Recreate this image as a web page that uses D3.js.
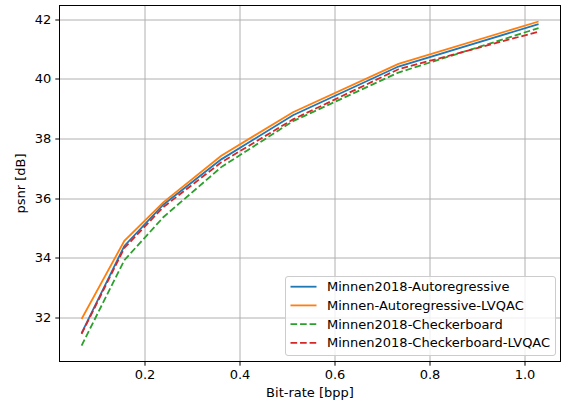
<!DOCTYPE html>
<html>
<head>
<meta charset="utf-8">
<script src="https://cdn.jsdelivr.net/npm/d3@7"></script>
<style>
  body { margin: 0; background: #fff; }
  #box { width: 562px; height: 404px; }
  text { font-family: "DejaVu Sans", sans-serif; fill: #000; }
</style>
</head>
<body>
<div id="box"></div>
<script>
// data
const bitrate = [0.068, 0.158, 0.240, 0.362, 0.513, 0.735, 1.030];
const autoregressive = [31.48, 34.40, 35.78, 37.30, 38.78, 40.41, 41.83];
const autoregressiveLvqac = [31.95, 34.57, 35.86, 37.42, 38.88, 40.50, 41.92];
const checkerboard = [31.06, 33.92, 35.36, 37.04, 38.58, 40.21, 41.70];
const checkerboardLvqac = [31.45, 34.33, 35.70, 37.20, 38.64, 40.32, 41.58];

const seriesNames = ['Minnen2018-Autoregressive', 'Minnen-Autoregressive-LVQAC',
  'Minnen2018-Checkerboard', 'Minnen2018-Checkerboard-LVQAC'];
const seriesValues = [autoregressive, autoregressiveLvqac, checkerboard, checkerboardLvqac];
const seriesColors = ['#1f77b4', '#ff7f0e', '#2ca02c', '#d62728'];
const seriesDashed = [false, false, true, true];

const xTicks = [0.2, 0.4, 0.6, 0.8, 1.0];
const yTicks = [32, 34, 36, 38, 40, 42];

const width = 562;
const height = 404;
const padLeft = 59.5;
const padRight = 1.5;
const padTop = 5.5;
const padBottom = 42.5;
const innerWidth = width - padLeft - padRight;
const innerHeight = height - padTop - padBottom;
const fontSize = '13px';

const svg = d3.select('#box').append('svg')
  .attr('width', width)
  .attr('height', height);

const x = d3.scaleLinear().domain([0.0215, 1.0762]).range([0, innerWidth]);
const y = d3.scaleLinear().domain([30.526, 42.456]).range([innerHeight, 0]);

const pad = svg.append('g')
  .attr('transform', `translate(${padLeft}, ${padTop})`);

// grid
pad.append('g').selectAll('line').data(xTicks)
  .join('line')
  .attr('x1', d => Math.round(x(d)) + 0.5)
  .attr('x2', d => Math.round(x(d)) + 0.5)
  .attr('y1', 0)
  .attr('y2', innerHeight)
  .style('stroke', '#b0b0b0')
  .style('stroke-width', 1);

pad.append('g').selectAll('line').data(yTicks)
  .join('line')
  .attr('y1', d => Math.round(y(d)) + 0.5)
  .attr('y2', d => Math.round(y(d)) + 0.5)
  .attr('x1', 0)
  .attr('x2', innerWidth)
  .style('stroke', '#b0b0b0')
  .style('stroke-width', 1);

// axes
const xAxis = pad.append('g')
  .attr('transform', `translate(0, ${innerHeight})`)
  .call(d3.axisBottom(x).tickValues(xTicks).tickFormat(d3.format('.1f')).tickSizeInner(4.2).tickSizeOuter(0).tickPadding(4));
const yAxis = pad.append('g')
  .call(d3.axisLeft(y).tickValues(yTicks).tickFormat(d3.format('d')).tickSizeInner(4.2).tickSizeOuter(0).tickPadding(4));

[xAxis, yAxis].forEach(a => {
  a.select('.domain').remove();
  a.selectAll('text').style('font-family', '"DejaVu Sans", sans-serif').style('font-size', fontSize).style('fill', '#000');
  a.selectAll('line').style('stroke', '#000').style('stroke-width', 1);
});
xAxis.selectAll('.tick').attr('transform', d => `translate(${Math.round(x(d)) + 0.5}, 0)`);
yAxis.selectAll('.tick').attr('transform', d => `translate(0, ${Math.round(y(d)) + 0.5})`);

// lines
const line = d3.line()
  .x((d, i) => x(bitrate[i]))
  .y(d => y(d));

pad.append('g').selectAll('path').data(seriesValues)
  .join('path')
  .attr('d', line)
  .style('fill', 'none')
  .style('stroke', (d, i) => seriesColors[i])
  .style('stroke-width', 1.8)
  .style('stroke-dasharray', (d, i) => seriesDashed[i] ? '6.66,2.88' : null);

// frame
pad.append('rect')
  .attr('x', 0)
  .attr('y', 0)
  .attr('width', innerWidth)
  .attr('height', innerHeight)
  .style('fill', 'none')
  .style('stroke', '#000')
  .style('stroke-width', 1);

// axis labels
svg.append('text')
  .attr('x', padLeft + innerWidth / 2)
  .attr('y', 397)
  .attr('text-anchor', 'middle')
  .style('font-size', fontSize)
  .text('Bit-rate [bpp]');

svg.append('text')
  .attr('transform', `translate(25, ${padTop + innerHeight / 2}) rotate(-90)`)
  .attr('text-anchor', 'middle')
  .style('font-size', fontSize)
  .text('psnr [dB]');

// legend
const legend = svg.append('g')
  .attr('transform', 'translate(285.5, 276.5)');

legend.append('rect')
  .attr('width', 270)
  .attr('height', 79)
  .attr('rx', 2.5)
  .style('fill', 'rgba(255,255,255,0.8)')
  .style('stroke', '#cccccc')
  .style('stroke-width', 1);

const rows = legend.selectAll('.row').data(seriesNames)
  .join('g')
  .attr('class', 'row')
  .attr('transform', (d, i) => `translate(0, ${10.2 + i * 18.7})`);

rows.append('line')
  .attr('x1', 5)
  .attr('x2', 31)
  .style('stroke', (d, i) => seriesColors[i])
  .style('stroke-width', 1.8)
  .style('stroke-dasharray', (d, i) => seriesDashed[i] ? '6.66,2.88' : null);

rows.append('text')
  .attr('x', 41.5)
  .attr('dy', '0.36em')
  .style('font-size', fontSize)
  .text(d => d);
</script>
</body>
</html>
